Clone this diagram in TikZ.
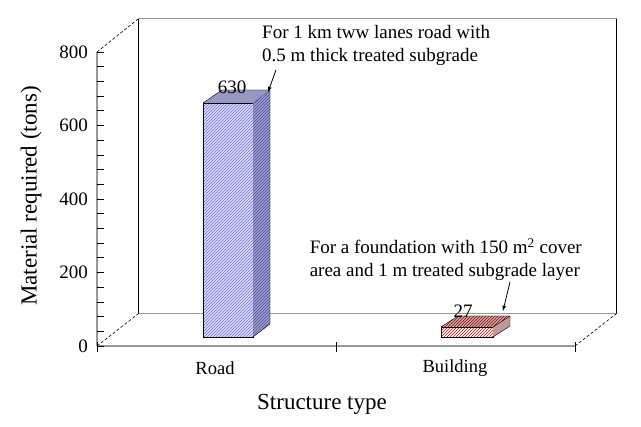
\documentclass[tikz,border=0pt]{standalone}
\usepackage{fontspec}
\setmainfont{Liberation Serif}
\usetikzlibrary{patterns}
\begin{document}
\begin{tikzpicture}[x=1pt,y=-1pt,
  lbl/.style={font=\fontsize{19}{23}\selectfont,inner sep=0pt},
  cat/.style={font=\fontsize{18.5}{22}\selectfont,inner sep=0pt},
  tk/.style={font=\fontsize{19}{22}\selectfont,inner sep=0pt},
  wall/.style={draw=gray!80,line width=1pt},
  arr/.style={-latex,line width=0.8pt}]
\useasboundingbox (0,0) rectangle (641,427);
% back walls
\draw[wall] (138,314) -- (138,19) -- (616,19) -- (616,314) -- (138,314);
\draw[black,line width=0.6pt] (138,19) -- (138,314);
\draw[black,line width=0.6pt] (616,19) -- (616,314);
\draw[densely dashed,line width=0.6pt] (97,52) -- (138,19);
\draw[densely dashed,line width=0.6pt] (97,346) -- (138,314);
\draw[densely dashed,line width=0.6pt] (575,346) -- (616,314);
% front axes
\draw[gray!80,line width=1.5pt] (97,346) -- (575,346);
\draw[gray!80,line width=1.5pt] (97,52) -- (97,346);
\foreach \v in {0,40,...,800} \draw[line width=0.7pt] (97,{346-0.3675*\v}) -- (104,{346-0.3675*\v});
\foreach \v in {0,200,...,800} \node[tk,anchor=east] at (88,{346-0.3675*\v}) {\v};
\foreach \x in {97,336,575} \draw[line width=0.7pt] (\x,342) -- (\x,352);
% road bar
\fill[blue!12] (203,103) rectangle (253,337);
\fill[pattern=north east lines,pattern color=blue!45!gray!80] (203,103) rectangle (253,337);
\draw[line width=0.6pt] (203,103) rectangle (253,337);
\fill[blue!25!gray!60] (253,103) -- (270,90) -- (270,324) -- (253,337) -- cycle;
\fill[pattern=north east lines,pattern color=blue!40!gray] (253,103) -- (270,90) -- (270,324) -- (253,337) -- cycle;
\draw[line width=0.4pt] (253,103) -- (270,90) -- (270,324) -- (253,337);
\fill[blue!25!gray!65] (203,103) -- (222,90) -- (270,90) -- (253,103) -- cycle;
\draw[line width=0.4pt] (203,103) -- (222,90) -- (270,90);
% building bar
\fill[white] (441,327) rectangle (493,337);
\fill[pattern=north east lines,pattern color=red!85!black] (441,327) rectangle (493,337);
\draw[line width=0.6pt] (441,327) rectangle (493,337);
\fill[red!20!gray!55] (441,327) -- (458,316) -- (510,316) -- (493,327) -- cycle;
\fill[pattern=north east lines,pattern color=red!60!black] (441,327) -- (458,316) -- (510,316) -- (493,327) -- cycle;
\fill[red!25!gray!65] (493,327) -- (510,316) -- (510,326) -- (493,337) -- cycle;
\draw[line width=0.4pt] (441,327) -- (458,316) -- (510,316) -- (510,326) -- (493,337) (493,327) -- (510,316);
% value labels
\node[tk] (v1) at (232,87) {630};
\node[tk] (v2) at (463,311) {27};
% annotations
\node[lbl,anchor=west,align=left] (a1) at (262,45) {For 1 km tww lanes road with\\0.5 m thick treated subgrade};
\node[lbl,anchor=east,align=left] (a2) at (582,260) {For a foundation with 150 m\textsuperscript{2} cover\\area and 1 m treated subgrade layer};
\coordinate (t1) at (268,92);
\coordinate (t2) at (503,311);
\draw[arr] (276,70) -- (t1);
\draw[arr] (510,282) -- (t2);
% categories and titles
\node[cat] (c1) at (215,368) {Road};
\node[cat] (c2) at (455,368) {Building};
\node[font=\fontsize{23}{26}\selectfont,inner sep=0pt] (xt) at (322,404) {Structure type};
\node[font=\fontsize{23}{26}\selectfont,inner sep=0pt,rotate=90] (yt) at (31,196) {Material required (tons)};
\end{tikzpicture}
\end{document}
